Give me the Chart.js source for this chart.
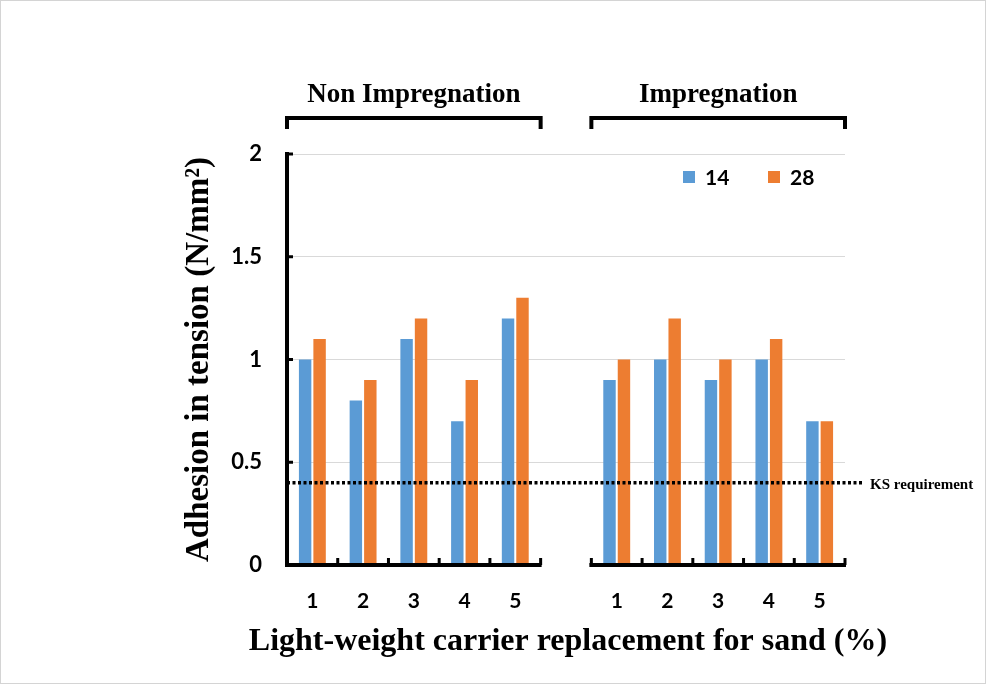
<!DOCTYPE html>
<html>
<head>
<meta charset="utf-8">
<title>Adhesion in tension</title>
<script src="https://cdn.jsdelivr.net/npm/chart.js@4.4.1/dist/chart.umd.min.js"></script>
<style>
  html, body { margin: 0; padding: 0; background: #fff; }
  .frame { position: absolute; left: 0; top: 0; width: 986px; height: 684px; box-sizing: border-box; border: 1px solid #d4d4d4; }
  #chart { position: absolute; left: 0; top: 0; }
</style>
</head>
<body>
<div class="frame"></div>
<canvas id="chart" width="986" height="684"></canvas>
<script>
// 数据
const groupNames = ['Non Impregnation', 'Impregnation'];
const replacement = ['1', '2', '3', '4', '5'];
const seriesNames = ['14', '28'];
const nonImp14 = [1.0, 0.8, 1.1, 0.7, 1.2];
const nonImp28 = [1.1, 0.9, 1.2, 0.9, 1.3];
const imp14 = [0.9, 1.0, 0.9, 1.0, 0.7];
const imp28 = [1.0, 1.2, 1.0, 1.1, 0.7];
const ksRequirement = 0.4;
const ksLabel = 'KS requirement';
const xTitle = 'Light-weight carrier replacement for sand (%)';
const yTitle = 'Adhesion in tension (N/mm²)';

// 两组之间留一个空位
const labels = [...replacement, '', ...replacement];
const joinGroups = (a, b) => [...a, null, ...b];

const colors = ['#5B9BD5', '#ED7D31'];
const serif = '"Liberation Serif", "Times New Roman", serif';
const sans = 'Lato, "Open Sans", sans-serif';

// 类别边界
function catBounds(x, i) {
    const c = x.getPixelForValue(i);
    const half = (x.getPixelForValue(1) - x.getPixelForValue(0)) / 2;
    return [c - half, c + half];
}

const decor = {
    id: 'decor',
    afterDatasetsDraw(chart) {
        const { ctx, chartArea: a, scales: { x, y } } = chart;
        ctx.save();

        // 坐标轴刻度（朝内）
        ctx.strokeStyle = '#000';
        ctx.lineWidth = 3;
        y.ticks.forEach(t => {
            const py = y.getPixelForValue(t.value);
            ctx.beginPath();
            ctx.moveTo(a.left, py);
            ctx.lineTo(a.left + 6, py);
            ctx.stroke();
        });

        // 分段的 x 轴
        [[0, replacement.length - 1], [replacement.length + 1, labels.length - 1]].forEach(([s, e]) => {
            const x0 = catBounds(x, s)[0];
            const x1 = catBounds(x, e)[1];
            ctx.lineWidth = 4;
            ctx.beginPath();
            ctx.moveTo(x0 - 2, a.bottom);
            ctx.lineTo(x1 + 1, a.bottom);
            ctx.stroke();
            ctx.lineWidth = 3;
            for (let i = s; i <= e + 1; i++) {
                const bx = i <= e ? catBounds(x, i)[0] : x1;
                ctx.beginPath();
                ctx.moveTo(bx, a.bottom);
                ctx.lineTo(bx, a.bottom - 7);
                ctx.stroke();
            }

            // 顶部括号和组名
            const by = 118;
            ctx.lineWidth = 4;
            ctx.beginPath();
            ctx.moveTo(x0, by + 11);
            ctx.lineTo(x0, by);
            ctx.lineTo(x1, by);
            ctx.lineTo(x1, by + 11);
            ctx.stroke();
            ctx.fillStyle = '#000';
            ctx.font = 'bold 27px ' + serif;
            ctx.textAlign = 'center';
            ctx.textBaseline = 'alphabetic';
            ctx.fillText(groupNames[s === 0 ? 0 : 1], (x0 + x1) / 2, 102);
        });

        // x 轴标题（不受刻度宽度限制）
        ctx.font = 'bold 32px ' + serif;
        ctx.textAlign = 'center';
        ctx.textBaseline = 'middle';
        ctx.fillText(xTitle, (a.left + a.right) / 2 + 2, 642);

        // KS 要求线
        const ky = y.getPixelForValue(ksRequirement);
        ctx.lineWidth = 3.5;
        ctx.setLineDash([3, 2.5]);
        ctx.beginPath();
        ctx.moveTo(a.left, ky);
        ctx.lineTo(a.right + 18, ky);
        ctx.stroke();
        ctx.setLineDash([]);
        ctx.font = 'bold 15px ' + serif;
        ctx.textAlign = 'left';
        ctx.fillText(ksLabel, a.right + 25, ky + 2);

        // 图例
        ctx.font = 'bold 21px ' + sans;
        let lx = a.right - 162;
        chart.data.datasets.forEach(ds => {
            ctx.fillStyle = ds.backgroundColor;
            ctx.fillRect(lx, 171, 12, 12);
            ctx.fillStyle = '#000';
            ctx.fillText(ds.label, lx + 22, 178);
            lx += 85;
        });
        ctx.restore();
    }
};

new Chart(document.getElementById('chart'), {
    type: 'bar',
    data: {
        labels,
        datasets: [
            { label: seriesNames[0], data: joinGroups(nonImp14, imp14), backgroundColor: colors[0] },
            { label: seriesNames[1], data: joinGroups(nonImp28, imp28), backgroundColor: colors[1] }
        ]
    },
    options: {
        responsive: false,
        animation: false,
        categoryPercentage: 0.57,
        barPercentage: 0.86,
        layout: { padding: { top: 154, right: 141, left: 0, bottom: 0 } },
        plugins: { legend: { display: false }, tooltip: { enabled: false } },
        scales: {
            x: {
                afterFit: s => { s.height = 119; },
                grid: { display: false },
                border: { display: false },
                ticks: { padding: 16, color: '#000', font: { family: sans, size: 21, weight: 'bold' } }
            },
            y: {
                min: 0,
                max: 2,
                afterFit: s => { s.width = 287; },
                ticks: {
                    stepSize: 0.5,
                    padding: 25,
                    color: '#000',
                    font: { family: sans, size: 22, weight: 'bold' },
                    callback: v => String(v)
                },
                grid: {
                    drawTicks: false,
                    color: c => (c.tick && c.tick.value === 0 ? 'rgba(0,0,0,0)' : '#D9D9D9'),
                    lineWidth: 1
                },
                border: { display: true, color: '#000', width: 4 },
                title: {
                    display: true,
                    text: yTitle,
                    color: '#000',
                    font: { family: serif, size: 33, weight: 'bold' },
                    padding: { top: 180, bottom: 0 }
                }
            }
        }
    },
    plugins: [decor]
});
</script>
</body>
</html>
